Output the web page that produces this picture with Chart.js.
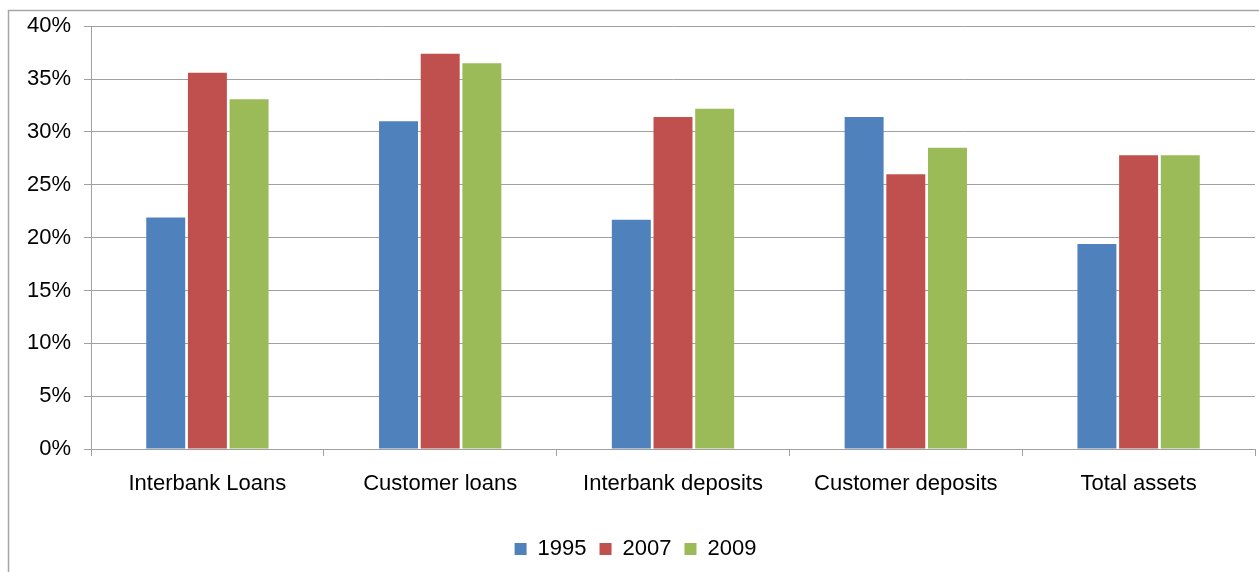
<!DOCTYPE html>
<html>
<head>
<meta charset="utf-8">
<script src="https://cdn.jsdelivr.net/npm/chart.js@4/dist/chart.umd.min.js"></script>
<style>
  html, body { margin: 0; padding: 0; background: #fff; overflow: hidden; }
  #wrap { position: relative; width: 1259px; height: 572px; }
</style>
</head>
<body>
<div id="wrap"><canvas id="myChart"></canvas></div>
<script>
const categories = ["Interbank Loans", "Customer loans", "Interbank deposits", "Customer deposits", "Total assets"];
const years = ["1995", "2007", "2009"];
const values1995 = [21.9, 31.0, 21.7, 31.4, 19.4];
const values2007 = [35.6, 37.4, 31.4, 26.0, 27.8];
const values2009 = [33.1, 36.5, 32.2, 28.5, 27.8];
const yTicks = [0, 5, 10, 15, 20, 25, 30, 35, 40];
const colors = ["#4F81BD", "#C0504D", "#9BBB59"];

const gridColor = "#a0a0a0";
const font = { family: "'Liberation Sans', Arial, sans-serif", size: 22 };

// thin grey frame round the whole chart (left and top edges)
const framePlugin = {
    id: "frame",
    beforeDraw(chart) {
        const c = chart.ctx;
        c.save();
        c.strokeStyle = "#a6a6a6";
        c.lineWidth = 1.5;
        c.beginPath();
        c.moveTo(8.5, 572);
        c.lineTo(8.5, 10.5);
        c.lineTo(1259, 10.5);
        c.stroke();
        c.restore();
    },
};

const ctx = document.getElementById("myChart").getContext("2d");
const myChart = new Chart(ctx, {
    type: "bar",
    data: {
        labels: categories,
        datasets: [
            { label: years[0], data: values1995, backgroundColor: colors[0] },
            { label: years[1], data: values2007, backgroundColor: colors[1] },
            { label: years[2], data: values2009, backgroundColor: colors[2] },
        ],
    },
    options: {
        responsive: true,
        maintainAspectRatio: false,
        animation: false,
        categoryPercentage: 0.537,
        barPercentage: 0.935,
        layout: {
            padding: { top: 26, right: 4, bottom: 2, left: 16 },
        },
        scales: {
            x: {
                grid: {
                    offset: true,
                    drawOnChartArea: false,
                    drawTicks: true,
                    tickLength: 7,
                    color: gridColor,
                },
                border: { color: gridColor },
                ticks: { color: "#000", font: font, padding: 15, maxRotation: 0 },
                afterFit(scale) {
                    scale.height = 76;
                },
            },
            y: {
                min: 0,
                max: 40,
                afterBuildTicks(scale) {
                    scale.ticks = yTicks.map((v) => ({ value: v }));
                },
                grid: { color: gridColor, tickLength: 7 },
                border: { color: gridColor },
                ticks: {
                    color: "#000",
                    font: font,
                    padding: 13,
                    callback: (v) => v + "%",
                },
                afterFit(scale) {
                    scale.width = 75;
                },
            },
        },
        plugins: {
            legend: {
                position: "bottom",
                labels: {
                    color: "#000",
                    font: font,
                    boxWidth: 12,
                    boxHeight: 12,
                    padding: 13,
                },
            },
            tooltip: { enabled: false },
        },
    },
    plugins: [framePlugin],
});
</script>
</body>
</html>
